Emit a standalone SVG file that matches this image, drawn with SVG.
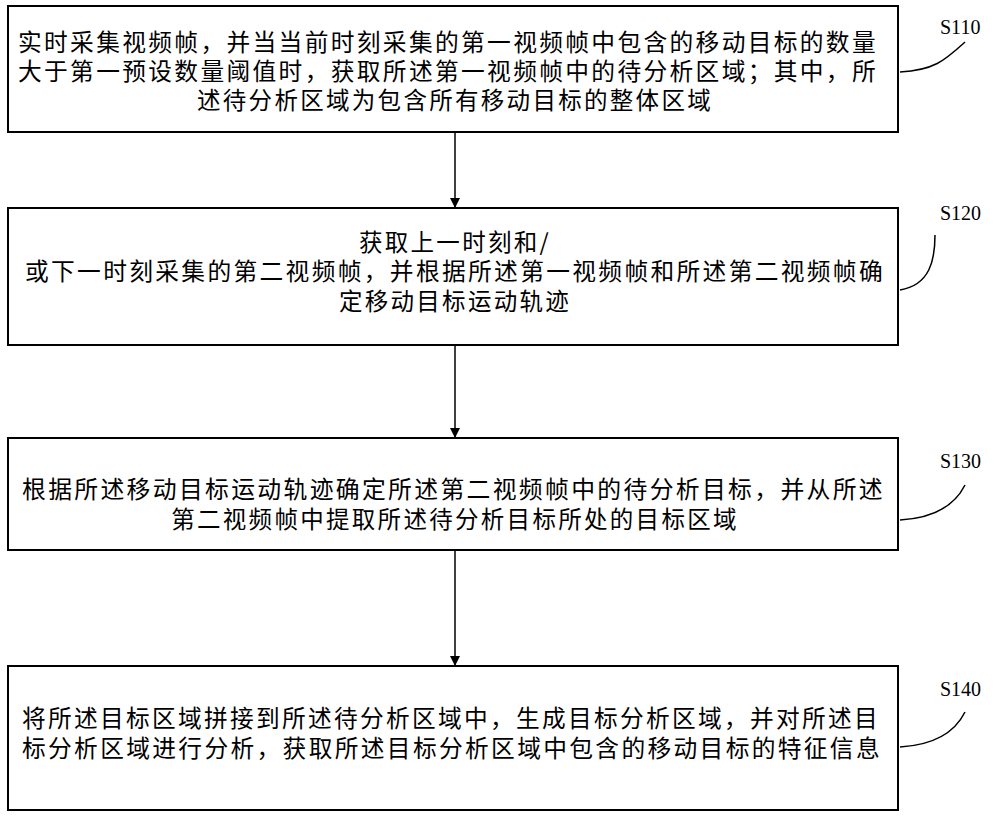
<svg xmlns="http://www.w3.org/2000/svg" width="1000" height="819" viewBox="0 0 1000 819">
<style>
.b{fill:#fff;stroke:#000;stroke-width:2}
.t{font-family:"Noto Sans CJK SC","Noto Sans CJK JP",sans-serif;font-size:23.5px;fill:#000;letter-spacing:2.3px}
.l{font-family:"Liberation Serif",serif;font-size:20px;fill:#000}
.c{fill:none;stroke:#000;stroke-width:1.5}
.a{stroke:#000;stroke-width:1.5;marker-end:url(#m)}
</style>
<defs><marker id="m" markerWidth="10" markerHeight="10" refX="9" refY="5" orient="auto" markerUnits="userSpaceOnUse"><path d="M0,0L10,5L0,10z" fill="#000"/></marker></defs>
<rect width="1000" height="819" fill="#fff"/>
<g id="s110"><rect class="b" x="8" y="6" width="890" height="126"/>
<text class="t" x="18" y="51" textLength="860" lengthAdjust="spacingAndGlyphs">实时采集视频帧，并当当前时刻采集的第一视频帧中包含的移动目标的数量</text>
<text class="t" x="18" y="80" textLength="860" lengthAdjust="spacingAndGlyphs">大于第一预设数量阈值时，获取所述第一视频帧中的待分析区域；其中，所</text>
<text class="t" x="455" y="109" text-anchor="middle">述待分析区域为包含所有移动目标的整体区域</text>
<text class="l" x="940" y="34">S110</text><path class="c" d="M900,72 C935,70 945,60 965,42"/></g>
<g id="s120"><rect class="b" x="8" y="208" width="890" height="137"/>
<text class="t" x="455" y="251" text-anchor="middle">获取上一时刻和/</text>
<text class="t" x="25" y="280" textLength="860" lengthAdjust="spacingAndGlyphs">或下一时刻采集的第二视频帧，并根据所述第一视频帧和所述第二视频帧确</text>
<text class="t" x="455" y="310" text-anchor="middle">定移动目标运动轨迹</text>
<text class="l" x="940" y="220">S120</text><path class="c" d="M900,290 C930,285 935,260 935,235"/></g>
<g id="s130"><rect class="b" x="8" y="438" width="890" height="112"/>
<text class="t" x="22" y="498" textLength="863" lengthAdjust="spacingAndGlyphs">根据所述移动目标运动轨迹确定所述第二视频帧中的待分析目标，并从所述</text>
<text class="t" x="455" y="528" text-anchor="middle">第二视频帧中提取所述待分析目标所处的目标区域</text>
<text class="l" x="940" y="468">S130</text><path class="c" d="M900,520 C935,518 955,505 965,485"/></g>
<g id="s140"><rect class="b" x="8" y="666" width="890" height="144"/>
<text class="t" x="22" y="727" textLength="858" lengthAdjust="spacingAndGlyphs">将所述目标区域拼接到所述待分析区域中，生成目标分析区域，并对所述目</text>
<text class="t" x="22" y="757" textLength="860" lengthAdjust="spacingAndGlyphs">标分析区域进行分析，获取所述目标分析区域中包含的移动目标的特征信息</text>
<text class="l" x="940" y="696">S140</text><path class="c" d="M900,747 C935,745 955,732 965,712"/></g>
<g id="connectors">
<line class="a" x1="455" y1="132" x2="455" y2="207"/>
<line class="a" x1="455" y1="345" x2="455" y2="437"/>
<line class="a" x1="455" y1="550" x2="455" y2="665"/>
</g>
</svg>
